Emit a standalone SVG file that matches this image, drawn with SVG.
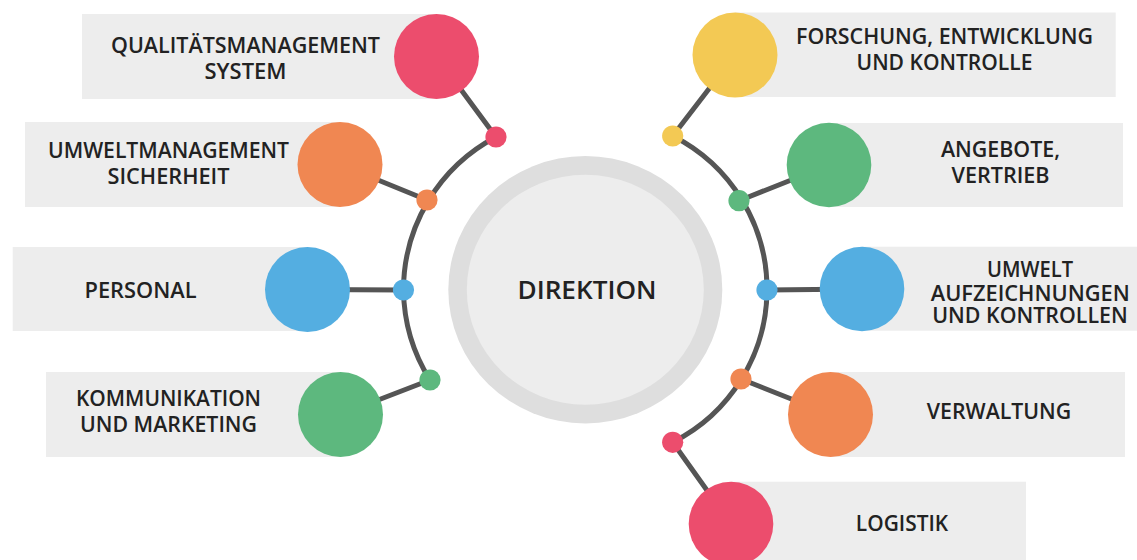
<svg xmlns="http://www.w3.org/2000/svg" width="1137" height="560" viewBox="0 0 1137 560">
<style>
.box{fill:#EDEDED}
.lbl{font-family:"Open Sans","Liberation Sans",sans-serif;font-weight:600;font-size:21px;fill:#222;text-anchor:middle}
.con{stroke:#555;stroke-width:5;fill:none;stroke-linecap:round}
.pink{fill:#EC4D6D}.orange{fill:#F08752}.blue{fill:#54AEE1}.green{fill:#5DB87E}.yellow{fill:#F3C954}
</style>
<rect width="1137" height="560" fill="#fff"/>
<g id="direktion">
<ellipse cx="585.3" cy="289.7" rx="137" ry="133.7" fill="#DEDEDE"/>
<ellipse cx="585.3" cy="289.7" rx="118.5" ry="115" fill="#EDEDED"/>
<text x="587" y="299.3" class="lbl" style="font-size:24.5px" textLength="139" lengthAdjust="spacingAndGlyphs">DIREKTION</text>
</g>
<g id="connectors">
<path class="con" d="M496,137 A173,173 0 0 0 403.5,290 A173,173 0 0 0 430,380"/>
<path class="con" d="M672.7,136 A171.5,171.5 0 0 1 767,290 A171.5,171.5 0 0 1 672.7,442.3"/>
<line class="con" x1="436.5" y1="56.5" x2="496" y2="137"/>
<line class="con" x1="340" y1="164.5" x2="427" y2="200"/>
<line class="con" x1="307.5" y1="289.5" x2="403.5" y2="290"/>
<line class="con" x1="340.5" y1="414.5" x2="430" y2="380"/>
<line class="con" x1="735" y1="55" x2="672.7" y2="136"/>
<line class="con" x1="829" y1="165" x2="739" y2="200.7"/>
<line class="con" x1="862" y1="289" x2="767" y2="290"/>
<line class="con" x1="830.5" y1="414.5" x2="741" y2="379"/>
<line class="con" x1="731" y1="524" x2="672.7" y2="442.3"/>
</g>
<g id="qualitaet">
<rect class="box" x="82" y="14" width="354.5" height="85"/>
<circle class="pink" cx="436.5" cy="56.5" r="42.5"/>
<circle class="pink" cx="496" cy="137" r="10.6"/>
<text class="lbl" x="245.5" y="52.7" textLength="269" lengthAdjust="spacingAndGlyphs">QUALITÄTSMANAGEMENT</text>
<text class="lbl" x="245.5" y="78.7" textLength="82" lengthAdjust="spacingAndGlyphs">SYSTEM</text>
</g>
<g id="umweltmanagement">
<rect class="box" x="25" y="122" width="315" height="85"/>
<circle class="orange" cx="340" cy="164.5" r="42.5"/>
<circle class="orange" cx="427" cy="200" r="10.6"/>
<text class="lbl" x="168.5" y="158.3" textLength="241" lengthAdjust="spacingAndGlyphs">UMWELTMANAGEMENT</text>
<text class="lbl" x="168.5" y="184" textLength="122" lengthAdjust="spacingAndGlyphs">SICHERHEIT</text>
</g>
<g id="personal">
<rect class="box" x="12.7" y="247" width="295" height="84"/>
<circle class="blue" cx="307.5" cy="289.5" r="42.5"/>
<circle class="blue" cx="403.5" cy="290" r="10.6"/>
<text class="lbl" x="140.5" y="297.7" textLength="112" lengthAdjust="spacingAndGlyphs">PERSONAL</text>
</g>
<g id="kommunikation">
<rect class="box" x="46" y="372" width="294.5" height="85"/>
<circle class="green" cx="340.5" cy="414.5" r="42.5"/>
<circle class="green" cx="430" cy="380" r="10.6"/>
<text class="lbl" x="168.5" y="406" textLength="185" lengthAdjust="spacingAndGlyphs">KOMMUNIKATION</text>
<text class="lbl" x="168.5" y="432" textLength="177" lengthAdjust="spacingAndGlyphs">UND MARKETING</text>
</g>
<g id="forschung">
<rect class="box" x="735" y="12.5" width="380.7" height="84.5"/>
<circle class="yellow" cx="735" cy="55" r="42.5"/>
<circle class="yellow" cx="672.7" cy="136" r="10.6"/>
<text class="lbl" x="944.5" y="44" textLength="297" lengthAdjust="spacingAndGlyphs">FORSCHUNG, ENTWICKLUNG</text>
<text class="lbl" x="944.5" y="70" textLength="176" lengthAdjust="spacingAndGlyphs">UND KONTROLLE</text>
</g>
<g id="angebote">
<rect class="box" x="829" y="123" width="294" height="84"/>
<circle class="green" cx="829" cy="165" r="42.3"/>
<circle class="green" cx="739" cy="200.7" r="10.6"/>
<text class="lbl" x="1000.5" y="157.3" textLength="119" lengthAdjust="spacingAndGlyphs">ANGEBOTE,</text>
<text class="lbl" x="1000.5" y="182.7" textLength="98" lengthAdjust="spacingAndGlyphs">VERTRIEB</text>
</g>
<g id="umwelt">
<rect class="box" x="862" y="246.7" width="275" height="84"/>
<circle class="blue" cx="862" cy="289" r="42.3"/>
<circle class="blue" cx="767" cy="290" r="10.6"/>
<text class="lbl" x="1030" y="276.7" textLength="86" lengthAdjust="spacingAndGlyphs">UMWELT</text>
<text class="lbl" x="1030.3" y="301" textLength="199" lengthAdjust="spacingAndGlyphs">AUFZEICHNUNGEN</text>
<text class="lbl" x="1030" y="323.3" textLength="195.5" lengthAdjust="spacingAndGlyphs">UND KONTROLLEN</text>
</g>
<g id="verwaltung">
<rect class="box" x="830.5" y="372" width="294.5" height="85"/>
<circle class="orange" cx="830.5" cy="414.5" r="42.5"/>
<circle class="orange" cx="741" cy="379" r="10.6"/>
<text class="lbl" x="999" y="419" textLength="144.5" lengthAdjust="spacingAndGlyphs">VERWALTUNG</text>
</g>
<g id="logistik">
<rect class="box" x="731" y="481.7" width="295" height="90"/>
<circle class="pink" cx="731" cy="524" r="42.3"/>
<circle class="pink" cx="672.7" cy="442.3" r="10.6"/>
<text class="lbl" x="902" y="530.7" textLength="92.3" lengthAdjust="spacingAndGlyphs">LOGISTIK</text>
</g>
</svg>
